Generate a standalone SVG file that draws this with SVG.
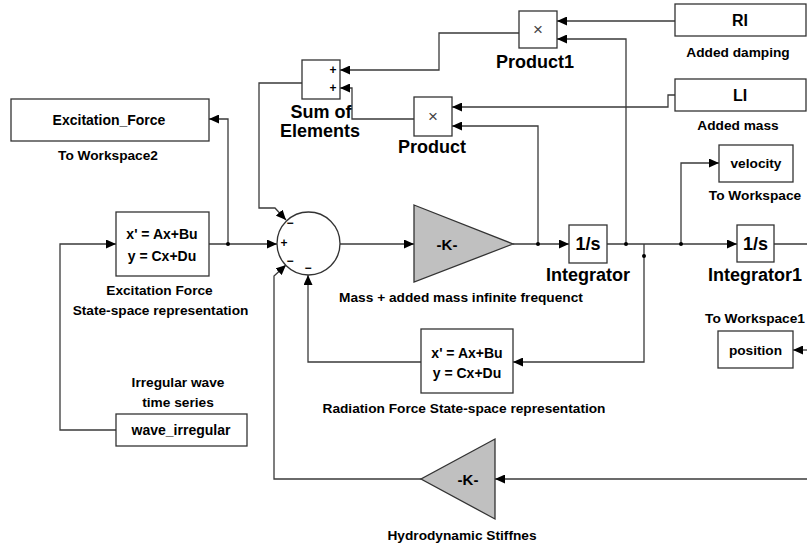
<svg xmlns="http://www.w3.org/2000/svg" width="807" height="547" viewBox="0 0 807 547">
  <defs>
    <marker id="arr" viewBox="0 0 10 9" refX="10" refY="4.5" markerWidth="10" markerHeight="9" orient="auto" markerUnits="userSpaceOnUse">
      <path d="M0,0 L10,4.5 L0,9 z" fill="#000"/>
    </marker>
    <style>
      .blk { fill: #fff; stroke: #333; stroke-width: 1.3; }
      .gain { fill: #c0c0c0; stroke: #333; stroke-width: 1.3; }
      .wire { fill: none; stroke: #3a3a3a; stroke-width: 1.3; }
      .wire.a { marker-end: url(#arr); }
      .dot { fill: #000; }
      text { font-family: "Liberation Sans", Arial, sans-serif; font-weight: bold; fill: #000; text-anchor: middle; dominant-baseline: central; }
      .lbl { font-size: 13.7px; }
      .big { font-size: 18px; }
      .in { font-size: 14px; }
      .sgn { font-size: 12px; }
      .mul { font-weight: normal; font-size: 17px; fill: #444; }
    </style>
  </defs>

  <rect width="807" height="547" fill="#fff"/>

  <!-- signal lines -->
  <g id="connectors">
    <path class="wire a" d="M116,430 H60 V244 H116"/>
    <path class="wire a" d="M209,244 H277"/>
    <path class="wire a" d="M228,244 V119 H209"/>
    <path class="wire a" d="M302,83 H259 V208 H275 L286,220"/>
    <path class="wire a" d="M340,244 H414"/>
    <path class="wire a" d="M513,244 H569"/>
    <path class="wire a" d="M607,244 H737"/>
    <path class="wire" d="M774,244 H807"/>
    <path class="wire a" d="M681,244 V163 H719"/>
    <path class="wire a" d="M626,244 V39 H557"/>
    <path class="wire a" d="M675,21 H557"/>
    <path class="wire a" d="M675,95 H668 V107 H452"/>
    <path class="wire a" d="M538,244 V126 H452"/>
    <path class="wire a" d="M519,33 H439 V70 H340"/>
    <path class="wire a" d="M414,119 H352 V88 H340"/>
    <path class="wire a" d="M644,244 V362 H513"/>
    <path class="wire a" d="M421,362 H308 V275"/>
    <path class="wire a" d="M807,350 H793"/>
    <path class="wire a" d="M807,479 H495"/>
    <path class="wire a" d="M421,479 H274 V276 L286,265"/>
    <circle class="dot" cx="228" cy="244" r="2"/>
    <circle class="dot" cx="538" cy="244" r="2"/>
    <circle class="dot" cx="626" cy="244" r="2"/>
    <circle class="dot" cx="644" cy="256" r="2"/>
    <circle class="dot" cx="681" cy="244" r="2"/>
  </g>

  <g id="to-workspace2">
    <rect class="blk" x="11" y="99" width="198" height="42"/>
    <text class="in" x="109" y="120">Excitation_Force</text>
    <text class="lbl" x="108" y="155">To Workspace2</text>
  </g>

  <g id="excitation-ss">
    <rect class="blk" x="116" y="212" width="93" height="64"/>
    <text class="in" x="162" y="234">x' = Ax+Bu</text>
    <text class="in" x="162" y="256">y = Cx+Du</text>
    <text class="lbl" x="159.5" y="290">Excitation Force</text>
    <text class="lbl" x="160.5" y="310">State-space representation</text>
  </g>

  <g id="wave-irregular">
    <rect class="blk" x="116" y="414" width="131" height="32"/>
    <text class="in" x="181" y="430">wave_irregular</text>
    <text class="lbl" x="178" y="382">Irregular wave</text>
    <text class="lbl" x="178" y="402">time series</text>
  </g>

  <g id="sum-of-elements">
    <rect class="blk" x="302" y="60" width="38" height="39"/>
    <text class="sgn" x="333" y="70">+</text>
    <text class="sgn" x="333" y="88">+</text>
    <text class="big" x="321" y="112">Sum of</text>
    <text class="big" x="320" y="131">Elements</text>
  </g>

  <g id="product1">
    <rect class="blk" x="519" y="11" width="38" height="37"/>
    <text class="mul" x="538" y="29">×</text>
    <text class="big" x="535" y="62">Product1</text>
  </g>

  <g id="product">
    <rect class="blk" x="414" y="97" width="38" height="39"/>
    <text class="mul" x="433" y="116">×</text>
    <text class="big" x="432" y="147">Product</text>
  </g>

  <g id="added-damping">
    <rect class="blk" x="675" y="4" width="131" height="32"/>
    <text class="in" x="740" y="20" style="font-size:16px">RI</text>
    <text class="lbl" x="738" y="52">Added damping</text>
  </g>

  <g id="added-mass">
    <rect class="blk" x="675" y="79" width="131" height="32"/>
    <text class="in" x="740" y="95" style="font-size:16px">LI</text>
    <text class="lbl" x="738" y="125">Added mass</text>
  </g>

  <g id="sum">
    <circle class="blk" cx="308.5" cy="243.5" r="31.5"/>
    <text class="sgn" x="290" y="223">−</text>
    <text class="sgn" x="284" y="243">+</text>
    <text class="sgn" x="290" y="261">−</text>
    <text class="sgn" x="308" y="268">−</text>
  </g>

  <g id="mass-gain">
    <polygon class="gain" points="414,205 513,244 414,282"/>
    <text class="in" x="447" y="244" style="font-size:15px">-K-</text>
    <text class="lbl" x="461" y="297">Mass + added mass infinite frequenct</text>
  </g>

  <g id="integrator">
    <rect class="blk" x="569" y="225" width="38" height="38"/>
    <text class="big" x="588" y="244">1/s</text>
    <text class="big" x="588" y="275">Integrator</text>
  </g>

  <g id="to-workspace">
    <rect class="blk" x="719" y="145" width="74" height="37"/>
    <text class="lbl" x="756" y="163">velocity</text>
    <text class="lbl" x="755" y="195">To Workspace</text>
  </g>

  <g id="integrator1">
    <rect class="blk" x="737" y="225" width="37" height="37"/>
    <text class="big" x="755.5" y="244">1/s</text>
    <text class="big" x="755" y="275">Integrator1</text>
  </g>

  <g id="to-workspace1">
    <rect class="blk" x="718" y="331" width="75" height="37"/>
    <text class="lbl" x="755.5" y="350">position</text>
    <text class="lbl" x="755" y="318">To Workspace1</text>
  </g>

  <g id="radiation-ss">
    <rect class="blk" x="421" y="329" width="92" height="64"/>
    <text class="in" x="467" y="353">x' = Ax+Bu</text>
    <text class="in" x="467" y="373">y = Cx+Du</text>
    <text class="lbl" x="464" y="408">Radiation Force State-space representation</text>
  </g>

  <g id="hydro-stiffness">
    <polygon class="gain" points="495,439 495,519 421,479"/>
    <text class="in" x="468" y="479" style="font-size:15px">-K-</text>
    <text class="lbl" x="462" y="535">Hydrodynamic Stiffnes</text>
  </g>
</svg>
